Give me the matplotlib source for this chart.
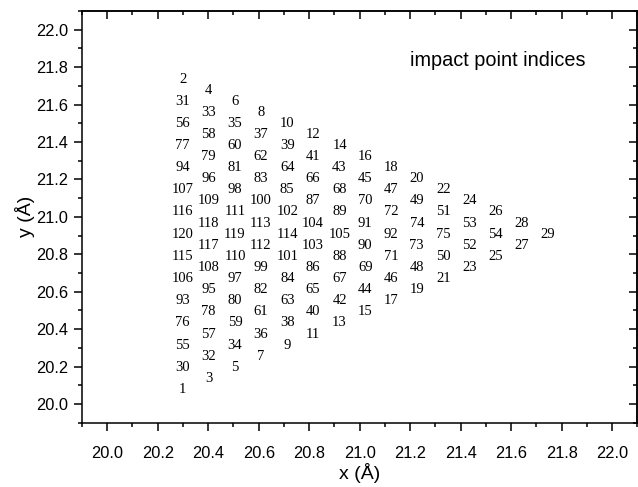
import matplotlib
matplotlib.use("Agg")
import matplotlib.pyplot as plt
from matplotlib.ticker import MultipleLocator, FormatStrFormatter

# ---- impact point grid ----
# x position of each column of labels (Å)
col_x = [20.299, 20.401, 20.506, 20.608, 20.713, 20.814, 20.920, 21.022,
         21.125, 21.226, 21.332, 21.434, 21.538, 21.641, 21.743]
# y position of each half-row level, top to bottom (Å)
level_y = [21.744, 21.685, 21.626, 21.566, 21.507, 21.448, 21.389, 21.330,
           21.270, 21.211, 21.152, 21.093, 21.034, 20.974, 20.915, 20.856,
           20.797, 20.738, 20.678, 20.619, 20.560, 20.501, 20.442, 20.382,
           20.323, 20.264, 20.205, 20.146, 20.086]
# labels of each column, top to bottom; column c starts at level c, every 2nd level
col_labels = [
    [2, 31, 56, 77, 94, 107, 116, 120, 115, 106, 93, 76, 55, 30, 1],
    [4, 33, 58, 79, 96, 109, 118, 117, 108, 95, 78, 57, 32, 3],
    [6, 35, 60, 81, 98, 111, 119, 110, 97, 80, 59, 34, 5],
    [8, 37, 62, 83, 100, 113, 112, 99, 82, 61, 36, 7],
    [10, 39, 64, 85, 102, 114, 101, 84, 63, 38, 9],
    [12, 41, 66, 87, 104, 103, 86, 65, 40, 11],
    [14, 43, 68, 89, 105, 88, 67, 42, 13],
    [16, 45, 70, 91, 90, 69, 44, 15],
    [18, 47, 72, 92, 71, 46, 17],
    [20, 49, 74, 73, 48, 19],
    [22, 51, 75, 50, 21],
    [24, 53, 52, 23],
    [26, 54, 25],
    [28, 27],
    [29],
]

plt.rcParams.update({"font.family": "Liberation Sans", "axes.linewidth": 1.1})

fig = plt.figure(figsize=(6.38, 4.87), dpi=100)
ax = fig.add_axes([0.1285, 0.132, 0.8707, 0.8454])

for c, labels in enumerate(col_labels):
    for k, lab in enumerate(labels):
        ax.text(col_x[c], level_y[c + 2 * k], str(lab), ha="center",
                va="center_baseline", fontsize=10.5, family="Liberation Serif",
                color="black")

ax.text(21.545, 21.835, "impact point indices", ha="center", va="center", fontsize=14.3)

ax.set_xlim(19.9, 22.1)
ax.set_ylim(19.9, 22.1)
for axis in (ax.xaxis, ax.yaxis):
    axis.set_major_locator(MultipleLocator(0.2))
    axis.set_minor_locator(MultipleLocator(0.1))
    axis.set_major_formatter(FormatStrFormatter("%.1f"))
ax.tick_params(which="both", direction="out", width=1.1, labelsize=11.8)
ax.tick_params(which="major", length=6)
ax.tick_params(which="minor", length=3)
ax.tick_params(axis="x", pad=11)
ax.tick_params(axis="y", pad=4)

# top / right ticks point inward, no labels
top = ax.secondary_xaxis("top")
right = ax.secondary_yaxis("right")
for sec, axis in ((top, top.xaxis), (right, right.yaxis)):
    axis.set_major_locator(MultipleLocator(0.2))
    axis.set_minor_locator(MultipleLocator(0.1))
    sec.tick_params(which="both", direction="in", width=1.1,
                    labeltop=False, labelright=False)
    sec.tick_params(which="major", length=6)
    sec.tick_params(which="minor", length=3)

ax.set_xlabel("x (Å)", fontsize=14, labelpad=1)
ax.set_ylabel("y (Å)", fontsize=14, labelpad=1)

fig.savefig("out.png", dpi=100, facecolor="white")
